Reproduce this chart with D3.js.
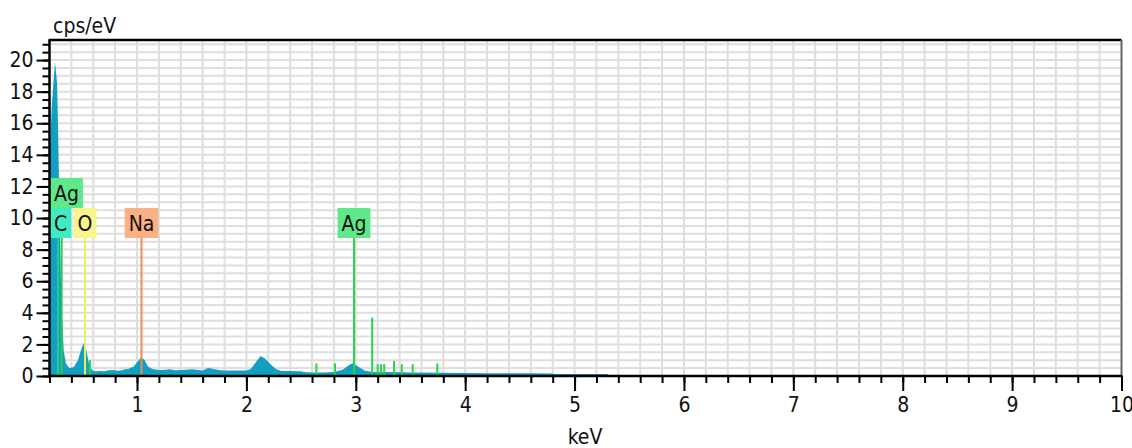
<!DOCTYPE html>
<html>
<head>
<meta charset="utf-8">
<script src="https://cdn.jsdelivr.net/npm/d3@7"></script>
<style>
  body { margin: 0; background: #fff; }
  text { font-family: "Liberation Sans Narrow", "DejaVu Sans Condensed", sans-serif; font-stretch: condensed; fill: #111; }
</style>
</head>
<body>
<script>
// spectrum envelope (keV, cps/eV)
var energy = [0.20,0.22,0.25,0.27,0.28,0.295,0.31,0.33,0.35,0.38,0.42,0.46,0.49,0.515,0.535,0.56,0.59,0.62,
  0.66,0.70,0.74,0.78,0.82,0.85,0.89,0.92,0.97,1.01,1.04,1.07,1.10,1.14,1.20,1.26,1.30,1.35,1.40,1.45,1.50,
  1.55,1.60,1.65,1.70,1.75,1.80,1.90,2.00,2.04,2.09,2.13,2.17,2.22,2.27,2.32,2.40,2.50,2.52,2.60,2.70,2.80,
  2.88,2.94,2.97,3.02,3.08,3.15,3.30,3.50,3.80,4.20,4.60,4.80,4.81,5.05,5.30,5.31,5.57,5.58];
var counts = [13.5,17.0,19.9,18.5,15.0,9.0,4.5,1.6,0.8,0.5,0.55,1.0,1.7,2.1,1.7,0.8,0.35,0.3,
  0.32,0.3,0.36,0.38,0.33,0.35,0.42,0.45,0.6,0.95,1.2,1.0,0.6,0.45,0.38,0.4,0.42,0.36,0.38,0.4,0.42,
  0.4,0.35,0.5,0.45,0.38,0.35,0.35,0.35,0.45,0.9,1.27,1.1,0.75,0.45,0.32,0.32,0.3,0.25,0.22,0.22,0.25,
  0.4,0.7,0.8,0.6,0.35,0.25,0.25,0.22,0.2,0.18,0.17,0.16,0.12,0.12,0.12,0.05,0.05,0];

// thin green peak lines (keV, cps/eV)
var peakKeV = [0.57,2.64,2.81,3.15,3.20,3.23,3.26,3.35,3.42,3.52,3.745];
var peakCps = [1.0,0.8,0.8,3.7,0.75,0.75,0.75,0.95,0.75,0.75,0.8];

// element markers
var elemName = ["Ag","C","O","Na","Ag"];
var elemKeV = [0.311,0.277,0.525,1.041,2.984];
var elemRow = [1,0,0,0,0];
var elemColor = ["#5ee88a","#3eecc0","#f6f68c","#f8b084","#5ee88a"];
var elemLine = ["#2ec850","#2ec890","#f0f060","#f08a50","#22d84a"];

var yTicks = [0,2,4,6,8,10,12,14,16,18,20];
var xTicks = [1,2,3,4,5,6,7,8,9,10];

var width = 1132, height = 448;
var plotLeft = 49.5, plotRight = 1121.5, plotTop = 40, plotBottom = 376;

var svg = d3.select("body").append("svg")
    .attr("width", width)
    .attr("height", height);

var x = d3.scaleLinear().domain([0.2, 10]).range([plotLeft, plotRight]);
var y = d3.scaleLinear().domain([0, 21.27]).range([plotBottom, plotTop]);

svg.append("defs").append("clipPath")
    .attr("id", "plot-clip")
  .append("rect")
    .attr("x", plotLeft).attr("y", plotTop)
    .attr("width", plotRight - plotLeft).attr("height", plotBottom - plotTop);

// grid
var grid = svg.append("g").attr("stroke", "#dedede").attr("stroke-width", 2);
grid.selectAll("line.v")
    .data(d3.range(2, 50).map(function(i){ return i * 0.2; }))
  .enter().append("line")
    .attr("class", "v")
    .attr("x1", function(d){ return x(d); }).attr("x2", function(d){ return x(d); })
    .attr("y1", plotTop).attr("y2", plotBottom);
grid.selectAll("line.h")
    .data(d3.range(1, 43).map(function(i){ return i * 0.5; }))
  .enter().append("line")
    .attr("class", "h")
    .attr("x1", plotLeft).attr("x2", plotRight)
    .attr("y1", function(d){ return y(d); }).attr("y2", function(d){ return y(d); });

var plot = svg.append("g").attr("clip-path", "url(#plot-clip)");

var pts = energy.map(function(e, i){ return [e, counts[i]]; });
var area = d3.area()
    .x(function(d){ return x(d[0]); })
    .y0(y(0))
    .y1(function(d){ return y(d[1]); });

plot.append("path")
    .datum(pts)
    .attr("fill", "#129fc2")
    .attr("d", area);

// element marker lines, from the label down to the axis
var boxH = 30, rowBottom = 238;
elemKeV.forEach(function(e, i){
  plot.append("line")
      .attr("x1", x(e)).attr("x2", x(e))
      .attr("y1", rowBottom).attr("y2", plotBottom)
      .attr("stroke", elemLine[i]).attr("stroke-width", 2);
});

plot.selectAll("line.peak")
    .data(peakKeV)
  .enter().append("line")
    .attr("class", "peak")
    .attr("x1", function(d){ return x(d); }).attr("x2", function(d){ return x(d); })
    .attr("y1", function(d, i){ return y(peakCps[i]); }).attr("y2", plotBottom)
    .attr("stroke", "#22d84a").attr("stroke-width", 2);

// labels
var labels = svg.append("g");
elemName.forEach(function(name, i){
  var g = labels.append("g");
  var t = g.append("text")
      .attr("font-size", 21)
      .attr("text-anchor", "middle")
      .text(name);
  var w = t.node().getComputedTextLength() + 8;
  var cx = x(elemKeV[i]);
  var bx = Math.max(plotLeft + 0.5, cx - w / 2);
  var by = rowBottom - boxH * (elemRow[i] + 1);
  g.insert("rect", "text")
      .attr("x", bx).attr("y", by)
      .attr("width", w).attr("height", boxH)
      .attr("fill", elemColor[i]);
  t.attr("x", bx + w / 2).attr("y", by + 23);
});

// axes
svg.append("g")
    .attr("transform", "translate(" + plotLeft + ",0)")
    .call(d3.axisLeft(y).tickValues(d3.range(0, 21.1, 0.5)).tickSize(7).tickFormat(""))
    .call(function(g){ g.select(".domain").remove(); g.selectAll("line").attr("stroke-width", 2); });

svg.append("g")
    .attr("transform", "translate(" + plotLeft + ",0)")
    .call(d3.axisLeft(y).tickValues(yTicks).tickSize(13).tickPadding(3))
    .call(function(g){
      g.select(".domain").remove();
      g.selectAll("line").attr("stroke-width", 2);
      g.selectAll("text").attr("font-size", 21).attr("fill", "#111").attr("font-family", null);
    });

svg.append("g")
    .attr("transform", "translate(0," + plotBottom + ")")
    .call(d3.axisBottom(x).tickValues(d3.range(1, 50).map(function(i){ return 0.2 * i; })).tickSize(7).tickFormat(""))
    .call(function(g){ g.select(".domain").remove(); g.selectAll("line").attr("stroke-width", 2); });

svg.append("g")
    .attr("transform", "translate(0," + plotBottom + ")")
    .call(d3.axisBottom(x).tickValues(xTicks).tickSize(15).tickPadding(6))
    .call(function(g){
      g.select(".domain").remove();
      g.selectAll("line").attr("stroke-width", 2);
      g.selectAll("text").attr("font-size", 21).attr("fill", "#111").attr("font-family", null);
    });

// frame
svg.append("line").attr("x1", plotLeft - 1).attr("x2", plotRight).attr("y1", plotTop).attr("y2", plotTop)
    .attr("stroke", "#000").attr("stroke-width", 2.5);
svg.append("line").attr("x1", plotRight).attr("x2", plotRight).attr("y1", plotTop).attr("y2", plotBottom)
    .attr("stroke", "#666").attr("stroke-width", 2);
svg.append("line").attr("x1", plotLeft).attr("x2", plotLeft).attr("y1", plotTop).attr("y2", plotBottom + 1)
    .attr("stroke", "#000").attr("stroke-width", 2.5);
svg.append("line").attr("x1", plotLeft - 1).attr("x2", plotRight + 1).attr("y1", plotBottom).attr("y2", plotBottom)
    .attr("stroke", "#000").attr("stroke-width", 2.5);

svg.append("text").attr("x", 53).attr("y", 33).attr("font-size", 21).text("cps/eV");
svg.append("text").attr("x", 585).attr("y", 444).attr("font-size", 21).attr("text-anchor", "middle").text("keV");
</script>
</body>
</html>
